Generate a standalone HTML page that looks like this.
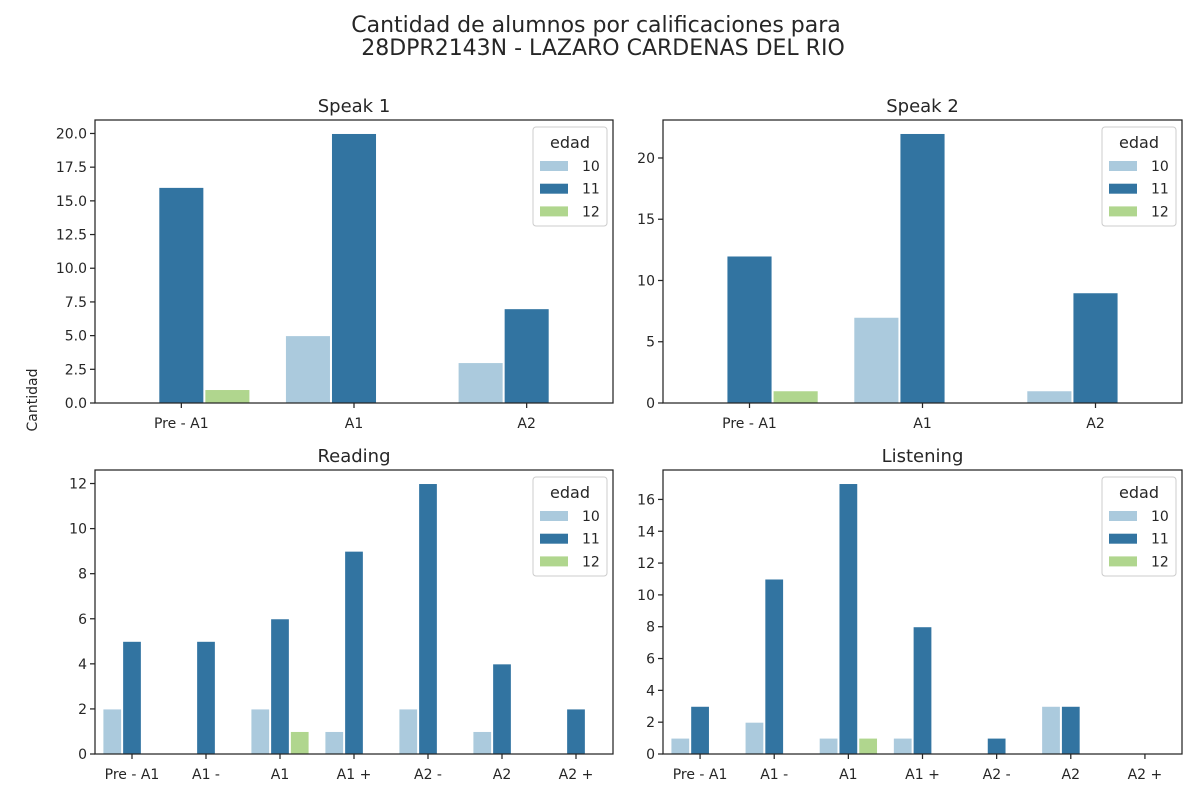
<!DOCTYPE html>
<html><head><meta charset="utf-8"><style>
body{margin:0;background:#fff;}
svg{display:block;font-family:"DejaVu Sans","Liberation Sans",sans-serif;}
</style></head><body>
<svg id="chart" width="1200" height="800" viewBox="0 0 1200 800">
<text x="596" y="32" font-size="22" text-anchor="middle" fill="#262626">Cantidad de alumnos por calificaciones para</text>
<text x="603" y="55" font-size="22" text-anchor="middle" fill="#262626">28DPR2143N - LAZARO CARDENAS DEL RIO</text>
<text transform="translate(37,400) rotate(-90)" font-size="14" text-anchor="middle" fill="#262626">Cantidad</text>
</svg>
<script>
const hues = ["10","11","12"];
const colors = ["#abcadd","#3274a1","#b0d68e"];
const cats3 = ["Pre - A1","A1","A2"];
const cats7 = ["Pre - A1","A1 -","A1","A1 +","A2 -","A2","A2 +"];
const speak1_10 = [0,5,3];
const speak1_11 = [16,20,7];
const speak1_12 = [1,0,0];
const speak2_10 = [0,7,1];
const speak2_11 = [12,22,9];
const speak2_12 = [1,0,0];
const reading_10 = [2,0,2,1,2,1,0];
const reading_11 = [5,5,6,9,12,4,2];
const reading_12 = [0,0,1,0,0,0,0];
const listening_10 = [1,2,1,1,0,3,0];
const listening_11 = [3,11,17,8,1,3,0];
const listening_12 = [0,0,1,0,0,0,0];
const ticks1 = [0,2.5,5,7.5,10,12.5,15,17.5,20];
const ticks2 = [0,5,10,15,20];
const ticks3 = [0,2,4,6,8,10,12];
const ticks4 = [0,2,4,6,8,10,12,14,16];

const NS="http://www.w3.org/2000/svg";
const svg=document.getElementById('chart');
function mk(tag,attrs,parent){const e=document.createElementNS(NS,tag);for(const k in attrs)e.setAttribute(k,attrs[k]);(parent||svg).appendChild(e);return e;}

function panel(name,title,x0,y0,w,h,cats,series,ticks,fmt){
  const g=mk('g',{});
  
  
  let mx=0;series.forEach(s=>s.forEach(v=>mx=Math.max(mx,v)));
  const ymax=mx*1.05;
  const ys=v=>y0+h-v/ymax*h;
  const band=w/cats.length;
  const bw=band*0.8/3;
  series.forEach((s,hi)=>{
    s.forEach((v,ci)=>{
      if(v<=0)return;
      const bx=x0+band*ci+band*0.1+bw*hi;
      const r=mk('rect',{x:bx+0.5,y:ys(v),width:bw-1,height:ys(0)-ys(v),fill:colors[hi],stroke:'#fff','stroke-width':1},g);
      
      
    });
  });
  const f=mk('rect',{x:x0,y:y0,width:w,height:h,fill:'none',stroke:'#262626','stroke-width':1.25},g);
  
  
  ticks.forEach(t=>{
    const y=ys(t);
    mk('line',{x1:x0-5,x2:x0,y1:y,y2:y,stroke:'#262626','stroke-width':1.25},g);
    const tx=mk('text',{x:x0-8,y:y+5,'font-size':14,'text-anchor':'end',fill:'#262626'},g);
    tx.textContent=fmt(t);
    
    
  });
  cats.forEach((c,ci)=>{
    const x=x0+band*(ci+0.5);
    mk('line',{x1:x,x2:x,y1:y0+h,y2:y0+h+5,stroke:'#262626','stroke-width':1.25},g);
    const tx=mk('text',{x:x,y:y0+h+25,'font-size':14,'text-anchor':'middle',fill:'#262626'},g);
    tx.textContent=c;
    
    
  });
  const tt=mk('text',{x:x0+w/2,y:y0-8,'font-size':18,'text-anchor':'middle',fill:'#262626'},g);
  tt.textContent=title;
  
  
  const lx=x0+w-80, ly=y0+7;
  const lg=mk('g',{},g);
  
  
  mk('rect',{x:lx,y:ly,width:74,height:99,rx:3,fill:'#fff','fill-opacity':0.8,stroke:'#ccc'},lg);
  const lt=mk('text',{x:lx+37,y:ly+21,'font-size':16,'text-anchor':'middle',fill:'#262626'},lg);
  lt.textContent='edad';
  hues.forEach((hname,i)=>{
    const ey=ly+39+i*22.7;
    const e=mk('g',{},lg);
    
    
    mk('rect',{x:lx+7,y:ey-5,width:28,height:10,fill:colors[i]},e);
    const et=mk('text',{x:lx+49,y:ey+5,'font-size':14,fill:'#262626'},e);
    et.textContent=hname;
  });
}
panel('speak-1','Speak 1',95,120,518,283,cats3,[speak1_10,speak1_11,speak1_12],ticks1,t=>t.toFixed(1));
panel('speak-2','Speak 2',663,120,519,283,cats3,[speak2_10,speak2_11,speak2_12],ticks2,t=>String(t));
panel('reading','Reading',95,470,518,284,cats7,[reading_10,reading_11,reading_12],ticks3,t=>String(t));
panel('listening','Listening',663,470,519,284,cats7,[listening_10,listening_11,listening_12],ticks4,t=>String(t));
</script>
</body></html>
